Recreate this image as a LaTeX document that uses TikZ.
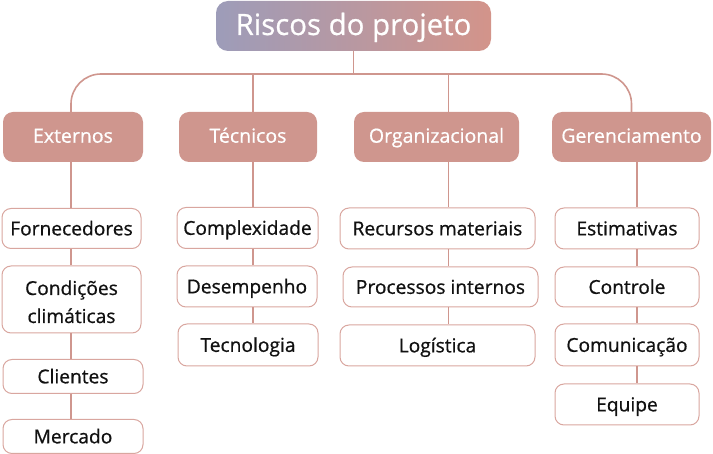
\documentclass[tikz,border=0pt]{standalone}
\usepackage{fontspec}
\setmainfont{Open Sans}[FakeBold=0.7]
\definecolor{catc}{HTML}{CF968E}
\definecolor{linec}{HTML}{CF968E}
\definecolor{leafc}{HTML}{D9A69F}
\definecolor{gleft}{HTML}{9D9CB9}
\definecolor{gright}{HTML}{D3948A}
\definecolor{txt}{HTML}{111111}
\tikzset{
  leaf/.style={draw=leafc, line width=1pt, rounded corners=9pt, fill=white, text=txt,
    font=\fontsize{19.2}{28}\selectfont, align=center, inner sep=0pt,
    text height=14.7pt, text depth=1pt},
  cat/.style={fill=catc, rounded corners=10pt, text=white, minimum height=50pt,
    font=\fontsize{19.5}{22}\selectfont, inner sep=0pt, text height=12.4pt, text depth=1pt},
  conn/.style={draw=linec, line width=1.6pt},
}
\begin{document}
\begin{tikzpicture}[x=1pt,y=-1pt]
\useasboundingbox (0,0) rectangle (713,454);
\node[left color=gleft, right color=gright, rounded corners=12pt, minimum width=275pt,
  minimum height=50pt, text=white, font=\fontsize{29.4}{32}\selectfont, inner sep=0pt,
  text height=19pt, text depth=1pt]
  (top) at (353.5,26) {Riscos do projeto};
\node[cat, minimum width=140pt] (ext) at (73,137) {Externos};
\node[cat, minimum width=138pt] (tec) at (248,137) {Técnicos};
\node[cat, minimum width=165pt] (org) at (436.5,137) {Organizacional};
\node[cat, minimum width=159pt] (ger) at (631.5,137) {Gerenciamento};

\coordinate (hb) at (353.5,74);
\coordinate (c1) at (71,0);
\coordinate (c2) at (253,0);
\coordinate (c3) at (448.5,0);
\coordinate (c4) at (637,0);

% column 1
\node[leaf, minimum width=139pt, minimum height=40pt] (forn) at (71.5,228.5) {Fornecedores};
\node[leaf, minimum width=139pt, minimum height=67pt, text height=48pt, text depth=1pt] (cond) at (71.5,299.5) {Condições\\climáticas};
\node[leaf, minimum width=140pt, minimum height=34pt] (cli) at (73,376.5) {Clientes};
\node[leaf, minimum width=140pt, minimum height=34pt] (merc) at (73,436.5) {Mercado};
% column 2
\node[leaf, minimum width=141pt, minimum height=41pt] (compl) at (247.5,228) {Complexidade};
\node[leaf, minimum width=140pt, minimum height=41pt] (des) at (247,286.5) {Desempenho};
\node[leaf, minimum width=140pt, minimum height=42pt] (tecn) at (248,345) {Tecnologia};
% column 3
\node[leaf, minimum width=195pt, minimum height=41pt] (rec) at (437.5,228.5) {Recursos materiais};
\node[leaf, minimum width=195pt, minimum height=40pt] (proc) at (440.5,287) {Processos internos};
\node[leaf, minimum width=195pt, minimum height=41pt] (log) at (437.5,345.5) {Logística};
% column 4
\node[leaf, minimum width=144pt, minimum height=41pt] (est) at (627,228.5) {Estimativas};
\node[leaf, minimum width=144pt, minimum height=40pt] (ctrl) at (627,287) {Controle};
\node[leaf, minimum width=144pt, minimum height=42pt] (com) at (627,345) {Comunicação};
\node[leaf, minimum width=144pt, minimum height=41pt] (eq) at (627,404.5) {Equipe};

% connectors
\draw[conn] (top.south) -- (hb);
\draw[conn, rounded corners=30pt] (c1 |- ext.north) |- (hb) -| (ger.north);
\draw[conn] (c2 |- tec.north) -- (c2 |- hb);
\draw[conn] (org.north -| c3) -- (c3 |- hb);

\draw[conn] (c1 |- ext.south) -- (c1 |- forn.north);
\draw[conn] (c1 |- forn.south) -- (c1 |- cond.north);
\draw[conn] (c1 |- cond.south) -- (c1 |- cli.north);
\draw[conn] (c1 |- cli.south) -- (c1 |- merc.north);

\draw[conn] (c2 |- tec.south) -- (c2 |- compl.north);
\draw[conn] (c2 |- compl.south) -- (c2 |- des.north);
\draw[conn] (c2 |- des.south) -- (c2 |- tecn.north);

\draw[conn] (c3 |- org.south) -- (c3 |- rec.north);
\draw[conn] (c3 |- rec.south) -- (c3 |- proc.north);
\draw[conn] (c3 |- proc.south) -- (c3 |- log.north);

\draw[conn] (c4 |- ger.south) -- (c4 |- est.north);
\draw[conn] (c4 |- est.south) -- (c4 |- ctrl.north);
\draw[conn] (c4 |- ctrl.south) -- (c4 |- com.north);
\draw[conn] (c4 |- com.south) -- (c4 |- eq.north);
\end{tikzpicture}
\end{document}
